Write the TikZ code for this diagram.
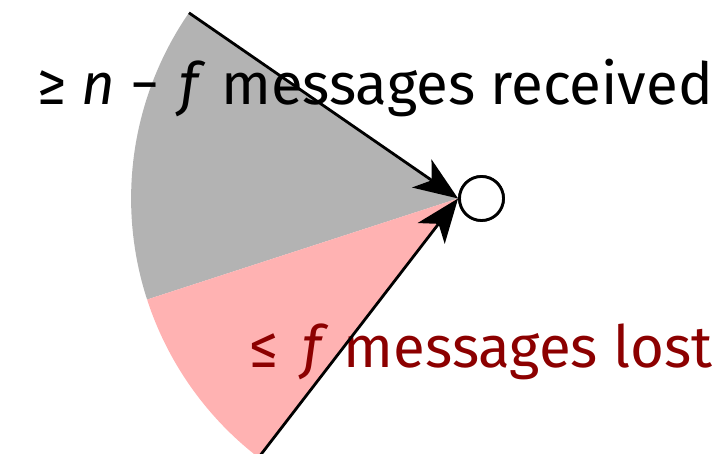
\documentclass[tikz,border=0pt]{standalone}
\usepackage{fontspec}
\setmainfont{Fira Sans}
\usetikzlibrary{arrows.meta}
\definecolor{sectgray}{RGB}{179,179,179}
\definecolor{sectpink}{RGB}{255,178,178}
\definecolor{lostred}{RGB}{140,0,0}
\tikzset{
  recv/.style={circle, draw=black, fill=white, line width=1.4pt, minimum size=22pt, inner sep=0pt},
  msgarrow/.style={line width=1.4pt, -{Stealth[length=22pt,width=17pt,inset=6pt]}},
  lbl/.style={anchor=base, inner sep=0pt, font=\fontsize{29.1}{34}\selectfont},
}
\begin{document}
\begin{tikzpicture}[x=0.5pt,y=0.5pt]
\useasboundingbox (0,0) rectangle (724,454);
\clip (0,0) rectangle (724,454);
\node[recv] (p) at (481.5,255.5) {};
\coordinate (W) at (p.west);
\fill[sectgray] (W) -- ++(145.4:327) arc[start angle=145.4, end angle=198, radius=327] -- cycle;
\fill[sectpink] (W) -- ++(198:327) arc[start angle=198, end angle=232.4, radius=327] -- cycle;
\node[lbl] (recvlbl) at (375,349) {≥ \textit{n} − \hspace{2pt}\textit{f} messages received};
\node[lbl, text=lostred] (lostlbl) at (481,86) {≤\hspace{4pt} \textit{f} messages lost};
\node[recv] at (p) {};
\path (W) ++(145.4:327) coordinate (top);
\path (W) ++(232.4:345) coordinate (bot);
\draw[msgarrow] (top) -- (p.west);
\draw[msgarrow] (bot) -- (p.west);
\end{tikzpicture}
\end{document}
